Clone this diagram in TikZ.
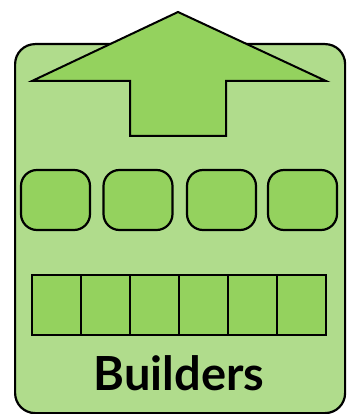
\documentclass[tikz,border=0pt]{standalone}
\usepackage{fontspec}
\setmainfont{Lato}
\definecolor{outerfill}{RGB}{176,220,140}
\definecolor{innerfill}{RGB}{148,210,94}
\tikzset{
  outerbox/.style={draw=black, line width=2.2pt, fill=outerfill, rounded corners=20pt},
  pillbox/.style={draw=black, line width=2.2pt, fill=innerfill, rounded corners=16pt, minimum width=69pt, minimum height=60pt, inner sep=0pt},
  cellbox/.style={draw=black, line width=2pt, fill=innerfill, minimum width=49pt, minimum height=60pt, inner sep=0pt},
  arrowshape/.style={draw=black, line width=2pt, fill=innerfill, line join=miter},
}
\begin{document}
\begin{tikzpicture}[x=1pt,y=-1pt]
\useasboundingbox (0,0) rectangle (346,414);
\node[outerbox, minimum width=330pt, minimum height=369pt, anchor=north west] (outer) at (14,43) {};
\draw[arrowshape] (178,12) coordinate (tip) -- (326,81) -- (226,81) -- (226,136) -- (130,136) -- (130,81) -- (32,81) -- cycle;
\node[pillbox] (p1) at (55.5,200) {};
\node[pillbox] (p2) at (138,200) {};
\node[pillbox] (p3) at (221.5,200) {};
\node[pillbox] (p4) at (302.5,200) {};
\foreach \i in {0,...,5} {
  \node[cellbox, anchor=north west] (c\i) at (31+\i*49,274) {};
}
\node[font=\fontsize{47}{47}\selectfont\bfseries, anchor=base, inner sep=0pt] (label) at (179,390) {Builders};
\end{tikzpicture}
\end{document}
